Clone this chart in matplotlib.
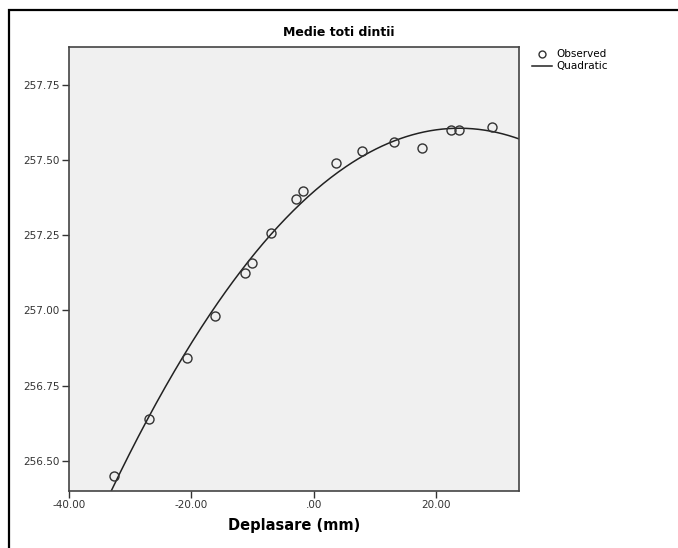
import numpy as np
import matplotlib
matplotlib.use("Agg")
import matplotlib.pyplot as plt
from matplotlib.lines import Line2D
from matplotlib.patches import Rectangle

# observed means
deplasare = [-32.7, -26.9, -20.7, -16.2, -11.2, -10.1, -6.9, -2.9, -1.7,
             3.7, 7.9, 13.2, 17.7, 22.5, 23.8, 29.2]
medie = [256.45, 256.64, 256.84, 256.98, 257.124, 257.158, 257.259, 257.372,
         257.397, 257.491, 257.531, 257.561, 257.541, 257.599, 257.602, 257.612]

x_ticks = [-40, -20, 0, 20]
x_labels = ["-40.00", "-20.00", ".00", "20.00"]
y_ticks = [256.50, 256.75, 257.00, 257.25, 257.50, 257.75]
y_labels = ["256.50", "256.75", "257.00", "257.25", "257.50", "257.75"]

plt.rcParams['font.family'] = ['DejaVu Sans']

fig = plt.figure(figsize=(6.78, 5.48), dpi=100)
ax = fig.add_axes([69 / 678, 1 - 490.7 / 548, 450 / 678, 443.5 / 548])
ax.set_facecolor('#f0f0f0')

# quadratic fit, like the SPSS curve estimation
coef = np.polyfit(deplasare, medie, 2)
xs = np.linspace(-40, 33.6, 300)
ax.plot(xs, np.polyval(coef, xs), color='#222222', lw=1.1, zorder=2)
ax.plot(deplasare, medie, 'o', mfc='none', mec='#333333', ms=6.5, mew=1.0, zorder=3)

ax.set_xlim(-40, 33.6)
ax.set_ylim(256.40, 257.876)
ax.set_xticks(x_ticks)
ax.set_xticklabels(x_labels)
ax.set_yticks(y_ticks)
ax.set_yticklabels(y_labels)
ax.tick_params(direction='out', length=5, width=1, labelsize=7.5, colors='#333333', pad=1.5)
for s in ax.spines.values():
    s.set_color('#444444')
    s.set_linewidth(1.2)

# title is centred on the whole chart, not the frame
fig.text(0.5, 1 - 32 / 548, "Medie toti dintii", ha='center', va='center',
         fontsize=9, fontweight='bold')
ax.set_xlabel("Deplasare (mm)", fontsize=10.5, fontweight='bold', labelpad=6)

# legend at the right of the frame
handles = [Line2D([], [], ls='none', marker='o', mfc='none', mec='#333333', ms=5, mew=1.0),
           Line2D([], [], color='#222222', lw=1.1)]
fig.legend(handles, ["Observed", "Quadratic"], loc='upper left',
           bbox_to_anchor=(528 / 678, 1 - 45 / 548), frameon=False, fontsize=7.5,
           handlelength=1.9, handletextpad=0.4, labelspacing=0.2, borderaxespad=0)

# outer border of the chart
fig.patches.append(Rectangle((9 / 678, -0.1), 1.2, 1 - 10 / 548 + 0.1,
                             transform=fig.transFigure, fill=False,
                             edgecolor='black', lw=1.6))

fig.savefig("out.png", dpi=100)
